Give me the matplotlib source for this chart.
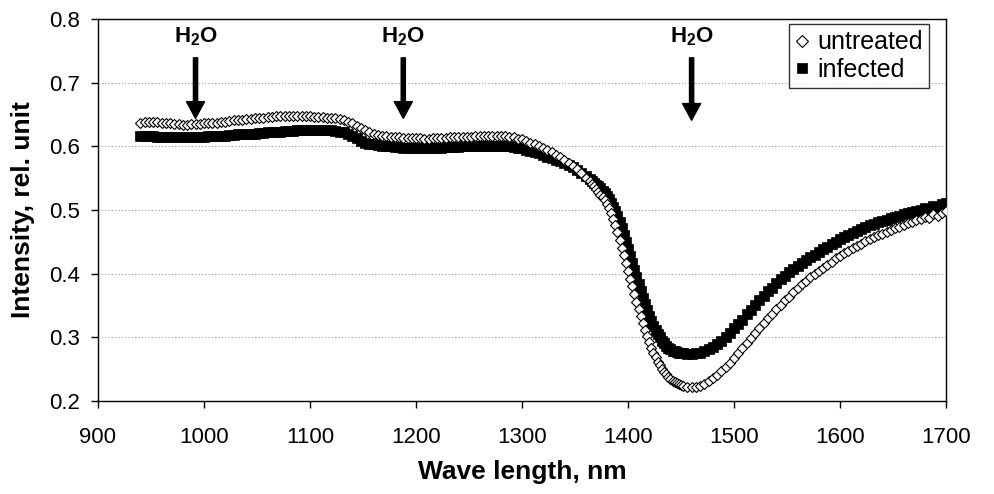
import numpy as np
import matplotlib
matplotlib.use("Agg")
import matplotlib.pyplot as plt

plt.rcParams['font.family'] = ['Liberation Sans', 'DejaVu Sans']
plt.rcParams['mathtext.fontset'] = 'custom'
plt.rcParams['mathtext.rm'] = 'Liberation Sans'
plt.rcParams['mathtext.bf'] = 'Liberation Sans:bold'

# wavelength grid (nm): 4 nm steps, 2 nm steps through the steep water band
wl_a = np.arange(940, 1365, 4)
wl_b = np.arange(1366, 1451, 2)
wl_c = np.arange(1452, 1701, 4)
wavelength = np.concatenate([wl_a, wl_b, wl_c])

untreated_a = [
    .636, .638, .638, .639, .638, .637, .637, .636, .635, .635,
    .634, .634, .635, .635, .635, .636, .636, .637, .637, .638,
    .639, .640, .641, .641, .642, .643, .643, .644, .645, .645,
    .646, .646, .647, .647, .647, .647, .648, .647, .647, .647,
    .647, .646, .646, .646, .645, .645, .644, .643, .641, .639,
    .636, .632, .629, .625, .622, .620, .618, .617, .616, .615,
    .614, .614, .613, .613, .613, .613, .613, .612, .612, .613,
    .613, .613, .613, .614, .614, .614, .615, .615, .615, .616,
    .616, .616, .617, .617, .616, .616, .616, .615, .614, .612,
    .611, .608, .606, .603, .601, .598, .594, .591, .587, .583,
    .578, .574, .569, .564, .558, .551, .545]
untreated_b = [
    .541, .537, .533, .529, .524, .520, .515, .510, .503, .495,
    .486, .476, .465, .453, .441, .429, .416, .404, .392, .380,
    .368, .356, .344, .333, .322, .312, .302, .293, .284, .276,
    .269, .262, .256, .251, .246, .242, .238, .235, .232, .230,
    .228, .226, .225]
untreated_c = [
    .224, .222, .222, .222, .224, .227, .231, .236, .241, .247,
    .253, .260, .267, .275, .283, .291, .299, .307, .315, .322,
    .330, .337, .344, .351, .358, .364, .371, .377, .383, .389,
    .394, .399, .404, .409, .414, .419, .424, .428, .432, .436,
    .440, .444, .447, .451, .454, .457, .460, .463, .466, .469,
    .472, .474, .477, .479, .481, .484, .486, .489, .487, .493,
    .491, .496, .498]

infected_a = [
    .617, .617, .616, .616, .615, .615, .615, .614, .614, .614,
    .614, .614, .614, .615, .615, .615, .616, .616, .616, .617,
    .617, .618, .618, .619, .619, .619, .620, .620, .621, .621,
    .622, .622, .623, .623, .624, .624, .624, .625, .625, .625,
    .625, .625, .625, .625, .625, .625, .624, .623, .622, .620,
    .617, .613, .609, .606, .604, .603, .602, .601, .600, .600,
    .599, .599, .598, .598, .598, .598, .598, .598, .598, .598,
    .598, .598, .599, .599, .599, .599, .600, .600, .600, .600,
    .601, .601, .601, .601, .601, .601, .600, .600, .599, .598,
    .597, .595, .593, .591, .589, .587, .584, .581, .579, .577,
    .574, .570, .567, .563, .558, .553, .549]
infected_b = [
    .546, .543, .540, .537, .534, .530, .526, .522, .517, .511,
    .505, .498, .490, .481, .471, .461, .450, .439, .428, .417,
    .406, .394, .383, .372, .362, .352, .343, .334, .326, .318,
    .311, .305, .300, .295, .291, .287, .284, .281, .279, .278,
    .277, .276, .275]
infected_c = [
    .275, .274, .274, .275, .276, .278, .281, .285, .289, .294,
    .300, .307, .314, .321, .328, .336, .343, .351, .358, .365,
    .372, .378, .385, .391, .397, .402, .407, .412, .417, .421,
    .426, .430, .434, .438, .442, .446, .450, .454, .457, .461,
    .464, .467, .470, .473, .476, .478, .481, .483, .485, .487,
    .489, .491, .493, .495, .497, .498, .500, .503, .502, .506,
    .505, .509, .511]

untreated = np.array(untreated_a + untreated_b + untreated_c)
infected = np.array(infected_a + infected_b + infected_c)
assert len(untreated) == len(wavelength) == len(infected)

# annotations: water absorption bands
h2o_positions = [992, 1188, 1460]
h2o_tips = [0.644, 0.644, 0.641]
h2o_label = r'$\mathbf{H_2O}$'

x_ticks = [900, 1000, 1100, 1200, 1300, 1400, 1500, 1600, 1700]
y_ticks = [0.2, 0.3, 0.4, 0.5, 0.6, 0.7, 0.8]

fig = plt.figure(figsize=(9.94, 4.94), dpi=100)
ax = fig.add_axes([98/994, 1-401/494, (946-98)/994, (401-19)/494])

ax.plot(wavelength, infected, linestyle='none', marker='s', markersize=6.6,
        markerfacecolor='black', markeredgecolor='black', markeredgewidth=0.5,
        label='infected', zorder=3)
ax.plot(wavelength, untreated, linestyle='none', marker='D', markersize=5.2,
        markerfacecolor='white', markeredgecolor='black', markeredgewidth=0.8,
        label='untreated', zorder=4)

ax.set_xlim(900, 1700)
ax.set_ylim(0.2, 0.8)
ax.set_xticks(x_ticks)
ax.set_yticks(y_ticks)
ax.set_yticklabels([f'{v:.1f}' for v in y_ticks])
ax.yaxis.grid(True, linestyle=(0, (1, 2)), color='#999999', linewidth=0.8)
ax.set_axisbelow(True)
ax.tick_params(axis='x', direction='out', length=5, width=1, labelsize=16, pad=14)
ax.tick_params(axis='y', direction='out', length=5, width=1, labelsize=16, pad=8)
for s in ax.spines.values():
    s.set_linewidth(1.0)
    s.set_color('black')

ax.set_xlabel('Wave length, nm', fontsize=19, fontweight='bold', labelpad=8)
ax.set_ylabel('Intensity, rel. unit', fontsize=19, fontweight='bold', labelpad=10)

for xp, tip in zip(h2o_positions, h2o_tips):
    ax.annotate('', xy=(xp, tip), xytext=(xp, 0.739),
                arrowprops=dict(facecolor='black', edgecolor='black', width=3.0,
                                headwidth=13, headlength=12, shrink=0), zorder=5)
    ax.text(xp, 0.772, h2o_label, ha='center', va='center', fontsize=16, zorder=5)

handles, labels = ax.get_legend_handles_labels()
leg = ax.legend(handles[::-1], labels[::-1], loc='upper right',
                bbox_to_anchor=((929-98)/848, (401-24)/382), borderaxespad=0,
                fontsize=18, frameon=True, fancybox=False, edgecolor='black',
                handlelength=0.6, handletextpad=0.3, labelspacing=0.15,
                borderpad=0.25, markerscale=1.2)
leg.get_frame().set_linewidth(1.0)

fig.savefig('out.png', dpi=100)
